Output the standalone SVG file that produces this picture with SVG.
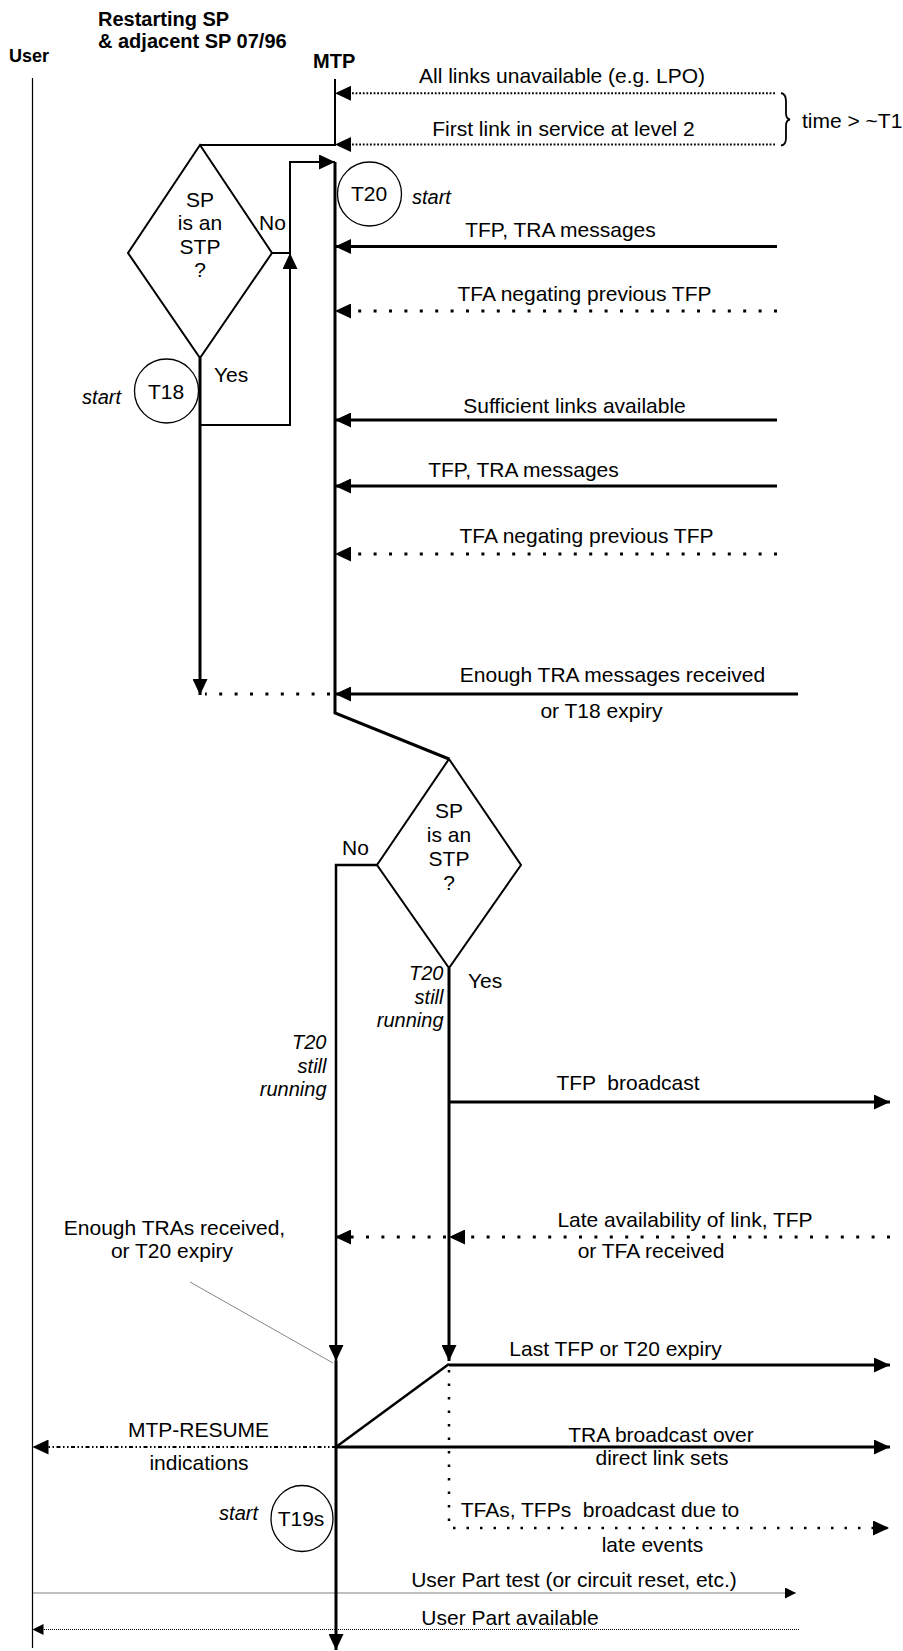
<svg xmlns="http://www.w3.org/2000/svg" width="903" height="1651" viewBox="0 0 903 1651">
<style>
text { font-family: "Liberation Sans", Arial, Helvetica, sans-serif; fill: #000; }
.lbl { font-size: 21px; }
.mid { text-anchor: middle; }
.end { text-anchor: end; }
.it { font-style: italic; font-size: 20px; }
.hdr { font-weight: bold; font-size: 20px; }
.shape { fill: none; stroke: #000; stroke-width: 2; }
.circ { fill: none; stroke: #000; stroke-width: 1.3; }
.solid { fill: none; stroke: #000; stroke-width: 3; }
.thin { fill: none; stroke: #000; stroke-width: 2; }
.mid2 { fill: none; stroke: #000; stroke-width: 2.5; }
.fine { fill: none; stroke: #000; stroke-width: 2; stroke-dasharray: 1.8 1.8; }
.dots { fill: none; stroke: #000; stroke-width: 3; stroke-dasharray: 3 12.4; }
.dots2 { fill: none; stroke: #000; stroke-width: 2.5; stroke-dasharray: 2.5 11; }
.dashdot { fill: none; stroke: #000; stroke-width: 2; stroke-dasharray: 4 2.5 1.5 2.5 1.5 2.5; }
.hair { fill: none; stroke: #000; stroke-width: 1; stroke-dasharray: 1 1; }
</style>
<defs>
<marker id="ah" markerUnits="userSpaceOnUse" viewBox="0 0 16 15" markerWidth="16" markerHeight="15" refX="16" refY="7.5" orient="auto"><path d="M0,0 L16,7.5 L0,15 z" fill="#000"/></marker>
<marker id="ahs" markerUnits="userSpaceOnUse" viewBox="0 0 11 11" markerWidth="11" markerHeight="11" refX="11" refY="5.5" orient="auto"><path d="M0,0 L11,5.5 L0,11 z" fill="#000"/></marker>
</defs>

<g id="header">
<text class="hdr" x="98" y="26">Restarting SP</text>
<text class="hdr" x="98" y="48">&amp; adjacent SP 07/96</text>
</g>

<g id="user">
<text class="hdr" x="9" y="62" style="font-size:18px">User</text>
<line x1="32.5" y1="78" x2="32.5" y2="1648" stroke="#000" stroke-width="1.2"/>
</g>

<g id="mtp">
<text class="hdr" x="313" y="68">MTP</text>
</g>

<g id="decision1">
<polygon class="shape" points="200,145 272,253 200,358 128,253"/>
<text class="lbl mid" x="200" y="207">SP</text>
<text class="lbl mid" x="200" y="230">is an</text>
<text class="lbl mid" x="200" y="254">STP</text>
<text class="lbl mid" x="200" y="277">?</text>
<text class="lbl" x="259" y="230">No</text>
<text class="lbl" x="214" y="382">Yes</text>
</g>

<g id="timerT20">
<circle class="circ" cx="369.5" cy="194" r="32"/>
<text class="lbl mid" x="369" y="201">T20</text>
<text class="it" x="412" y="204">start</text>
</g>

<g id="timerT18">
<circle class="circ" cx="166.5" cy="391" r="32"/>
<text class="lbl mid" x="166" y="399">T18</text>
<text class="it end" x="121" y="404">start</text>
</g>

<g id="decision2">
<polygon class="shape" points="449,759 521,865 449,968 377,865"/>
<text class="lbl mid" x="449" y="818">SP</text>
<text class="lbl mid" x="449" y="842">is an</text>
<text class="lbl mid" x="449" y="866">STP</text>
<text class="lbl mid" x="449" y="890">?</text>
<text class="lbl" x="342" y="855">No</text>
<text class="lbl" x="468" y="988">Yes</text>
<text class="it end" x="443.5" y="980">T20</text>
<text class="it end" x="443.5" y="1003.5">still</text>
<text class="it end" x="443.5" y="1027">running</text>
<text class="it end" x="326.5" y="1049">T20</text>
<text class="it end" x="326.5" y="1072.5">still</text>
<text class="it end" x="326.5" y="1096">running</text>
</g>

<g id="timerT19s">
<ellipse class="circ" cx="302" cy="1518.5" rx="31" ry="33"/>
<text class="lbl mid" x="301" y="1526">T19s</text>
<text class="it end" x="258" y="1520">start</text>
</g>

<g id="note">
<text class="lbl mid" x="174.5" y="1235">Enough TRAs received,</text>
<text class="lbl mid" x="172" y="1258">or T20 expiry</text>
<line x1="190" y1="1282" x2="333" y2="1363" stroke="#888" stroke-width="1"/>
</g>

<g id="brace">
<path d="M781,93 Q786,94 786,101 L786,113 Q786,119 790,119.5 Q786,120 786,126 L786,138 Q786,145 781,145.5" fill="none" stroke="#000" stroke-width="1.8"/>
<text class="lbl" x="802" y="128">time &gt; ~T1</text>
</g>

<g id="connectors">
<path class="thin" d="M335,79 V145 H200"/>
<path class="thin" d="M272,253 H290 V162 H335" marker-end="url(#ah)"/>
<path class="thin" d="M200,425 H290 V253" marker-end="url(#ah)"/>
<path class="solid" d="M200,358 V695" marker-end="url(#ah)"/>
<path class="solid" d="M335,162 V713 L449,759"/>
<path class="mid2" d="M377,865 H336 V1361" marker-end="url(#ah)"/>
<path class="solid" d="M336,1361 V1650" marker-end="url(#ah)"/>
<path class="solid" d="M449,968 V1361" marker-end="url(#ah)"/>
<path class="mid2" d="M449,1364 L336,1447"/>

<path class="fine" d="M775,93.3 H335" marker-end="url(#ah)"/>
<path class="fine" d="M775,144.5 H335" marker-end="url(#ah)"/>
<path class="solid" d="M777,246.5 H335" marker-end="url(#ah)"/>
<path class="dots" d="M777,311 H335" marker-end="url(#ah)"/>
<path class="solid" d="M777,420 H335" marker-end="url(#ah)"/>
<path class="solid" d="M777,486 H335" marker-end="url(#ah)"/>
<path class="dots" d="M777,554 H335" marker-end="url(#ah)"/>
<path class="solid" d="M798,694 H335" marker-end="url(#ah)"/>
<path class="dots" d="M330,694 H205"/>

<path class="solid" d="M449,1102 H890" marker-end="url(#ah)"/>
<path class="dots" d="M890,1237 H449" marker-end="url(#ah)"/>
<path class="dots" d="M446,1237 H335" marker-end="url(#ah)"/>
<path class="solid" d="M449,1365 H890" marker-end="url(#ah)"/>
<path class="solid" d="M336,1447 H890" marker-end="url(#ah)"/>
<path class="dashdot" d="M336,1447 H32.5" marker-end="url(#ah)"/>
<path class="dots2" d="M449,1370 V1528 H889" marker-end="url(#ah)"/>
<path class="hair" d="M32.5,1593 H796" marker-end="url(#ahs)"/>
<path class="hair" d="M799,1629.5 H32.5" marker-end="url(#ahs)"/>
</g>

<g id="labels">
<text class="lbl mid" x="562" y="83">All links unavailable (e.g. LPO)</text>
<text class="lbl mid" x="563.5" y="136">First link in service at level 2</text>
<text class="lbl mid" x="560.5" y="237">TFP, TRA messages</text>
<text class="lbl mid" x="584.5" y="301">TFA negating previous TFP</text>
<text class="lbl mid" x="574.5" y="413">Sufficient links available</text>
<text class="lbl mid" x="523.5" y="477">TFP, TRA messages</text>
<text class="lbl mid" x="586.5" y="543">TFA negating previous TFP</text>
<text class="lbl mid" x="612.5" y="682">Enough TRA messages received</text>
<text class="lbl mid" x="601.5" y="718">or T18 expiry</text>
<text class="lbl mid" x="628" y="1090" xml:space="preserve">TFP  broadcast</text>
<text class="lbl mid" x="685" y="1227">Late availability of link, TFP</text>
<text class="lbl mid" x="651" y="1258">or TFA received</text>
<text class="lbl mid" x="615.5" y="1356">Last TFP or T20 expiry</text>
<text class="lbl mid" x="661" y="1442">TRA broadcast over</text>
<text class="lbl mid" x="662" y="1465">direct link sets</text>
<text class="lbl mid" x="198.5" y="1437">MTP-RESUME</text>
<text class="lbl mid" x="199" y="1470">indications</text>
<text class="lbl mid" x="600" y="1517" xml:space="preserve">TFAs, TFPs  broadcast due to</text>
<text class="lbl mid" x="652.5" y="1552">late events</text>
<text class="lbl mid" x="574" y="1587">User Part test (or circuit reset, etc.)</text>
<text class="lbl mid" x="510" y="1625">User Part available</text>
</g>
</svg>
